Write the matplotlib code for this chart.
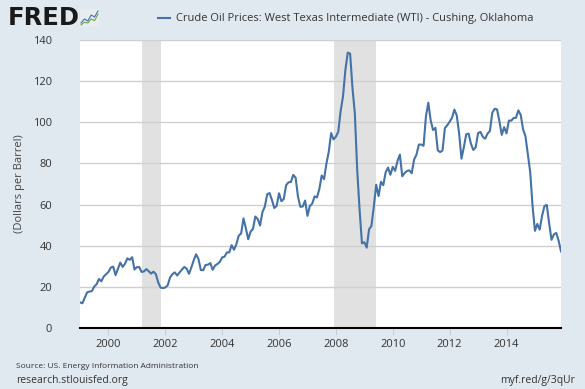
import numpy as np
import matplotlib
matplotlib.use("Agg")
import matplotlib.pyplot as plt

plt.rcParams['font.family'] = ['Open Sans', 'DejaVu Sans']

# monthly WTI spot price, dollars per barrel, Jan 1999 - Dec 2015
wti = [
    12.47, 12.01, 14.68, 17.31, 17.72, 17.92, 20.10, 21.28, 23.80, 22.69, 25.00, 26.10,
    27.26, 29.37, 29.84, 25.72, 28.79, 31.82, 29.70, 31.26, 33.88, 33.11, 34.42, 28.44,
    29.59, 29.61, 27.24, 27.49, 28.63, 27.60, 26.43, 27.37, 26.20, 22.17, 19.64, 19.39,
    19.72, 20.72, 24.53, 26.18, 27.04, 25.52, 26.97, 28.39, 29.66, 28.84, 26.35, 29.46,
    32.95, 35.83, 33.51, 28.17, 28.11, 30.66, 30.75, 31.57, 28.31, 30.34, 31.11, 32.13,
    34.31, 34.69, 36.74, 36.75, 40.28, 38.03, 40.78, 44.90, 45.94, 53.28, 48.47, 43.15,
    46.84, 48.15, 54.19, 52.98, 49.83, 56.35, 59.00, 64.99, 65.59, 62.26, 58.32, 59.41,
    65.49, 61.63, 62.69, 69.44, 70.84, 70.95, 74.41, 73.04, 63.80, 58.89, 59.08, 61.96,
    54.51, 59.28, 60.44, 63.98, 63.46, 67.49, 74.12, 72.36, 79.92, 85.80, 94.77, 91.69,
    92.97, 95.39, 105.45, 112.58, 125.40, 133.88, 133.37, 116.67, 104.11, 76.61, 57.31, 41.12,
    41.71, 39.09, 47.94, 49.65, 59.03, 69.64, 64.15, 71.05, 69.41, 75.72, 77.99, 74.47,
    78.33, 76.39, 81.20, 84.29, 73.74, 75.34, 76.32, 76.60, 75.24, 81.89, 84.25, 89.15,
    89.17, 88.58, 102.86, 109.53, 100.90, 96.26, 97.30, 86.33, 85.52, 86.32, 97.16, 98.56,
    100.27, 102.20, 106.16, 103.32, 94.66, 82.30, 87.90, 94.13, 94.51, 89.49, 86.53, 87.86,
    94.76, 95.31, 92.94, 92.02, 94.51, 95.77, 104.67, 106.57, 106.29, 100.54, 93.86, 97.63,
    94.62, 100.82, 100.80, 102.07, 102.18, 105.79, 103.59, 96.54, 93.21, 84.40, 75.79, 59.29,
    47.22, 50.58, 47.82, 54.45, 59.27, 59.82, 50.90, 42.87, 45.48, 46.22, 42.44, 37.19,
]
start_year = 1999
recessions = [(2001 + 2 / 12, 2001 + 10 / 12), (2007 + 11 / 12, 2009 + 5 / 12)]
x_ticks = [2000, 2002, 2004, 2006, 2008, 2010, 2012, 2014]
y_ticks = [0, 20, 40, 60, 80, 100, 120, 140]
series_name = "Crude Oil Prices: West Texas Intermediate (WTI) - Cushing, Oklahoma"

bg = '#E1E9F0'
line_color = '#4572A7'
text_color = '#333333'

t = start_year + np.arange(len(wti)) / 12

fig = plt.figure(figsize=(5.85, 3.89), dpi=100, facecolor=bg)
ax = fig.add_axes([80 / 585, 61 / 389, 481 / 585, 288 / 389])
ax.set_facecolor('white')

for r0, r1 in recessions:
    ax.axvspan(r0, r1, color='#E1E1E1', lw=0, zorder=1)

ax.plot(t, wti, color=line_color, lw=1.5, zorder=3)

ax.set_xlim(t[0], t[-1])
ax.set_ylim(0, 140)
ax.set_xticks(x_ticks)
ax.set_xticklabels([str(v) for v in x_ticks])
ax.set_yticks(y_ticks)
ax.grid(axis='y', color='#D0D0D0', lw=1, zorder=2)
ax.set_axisbelow(False)
for s in ['top', 'right', 'left']:
    ax.spines[s].set_visible(False)
ax.spines['bottom'].set_color('black')
ax.spines['bottom'].set_linewidth(1.5)
ax.spines['bottom'].set_zorder(4)
ax.tick_params(axis='y', length=0, pad=20, labelsize=8, labelcolor=text_color)
ax.tick_params(axis='x', length=5, color='#C0D0E0', pad=3, labelsize=8,
               labelcolor=text_color)
ax.set_ylabel('(Dollars per Barrel)', fontsize=8, color='#444444', labelpad=6)

# header: logo and legend
fig.text(8 / 585, 1 - 18 / 389, 'FRED', fontsize=17.5, fontweight='bold',
         color='#1a1a1a', va='center', ha='left', family='DejaVu Sans')
icon = fig.add_axes([80 / 585, 1 - 27 / 389, 19 / 585, 18 / 389])
icon.plot([0, 1, 2, 3, 4, 5], [1, 2, 1.5, 3, 2.5, 4], color='#4572A7', lw=0.8)
icon.plot([0, 1, 2, 3, 4, 5], [0.5, 1.2, 1.0, 2.0, 1.6, 3.2], color='#6AA84F', lw=0.8)
icon.set_xlim(-0.3, 5.3)
icon.set_ylim(0, 4.5)
icon.set_xticks([])
icon.set_yticks([])
icon.set_facecolor('#E8ECEF')
for s in icon.spines.values():
    s.set_visible(False)

fig.lines.append(plt.Line2D([158 / 585, 170 / 585], [1 - 18 / 389, 1 - 18 / 389],
                            color=line_color, lw=1.5, transform=fig.transFigure))
fig.text(176 / 585, 1 - 18 / 389, series_name, fontsize=8, color=text_color,
         va='center', ha='left')

# footer
fig.text(16 / 585, 1 - 366 / 389, 'Source: US. Energy Information Administration',
         fontsize=6, color=text_color, va='center', ha='left')
fig.text(16 / 585, 1 - 381 / 389, 'research.stlouisfed.org', fontsize=7.5,
         color=text_color, va='center', ha='left')
fig.text(575 / 585, 1 - 381 / 389, 'myf.red/g/3qUr', fontsize=7.5,
         color=text_color, va='center', ha='right')

fig.savefig('out.png', dpi=100, facecolor=bg)
